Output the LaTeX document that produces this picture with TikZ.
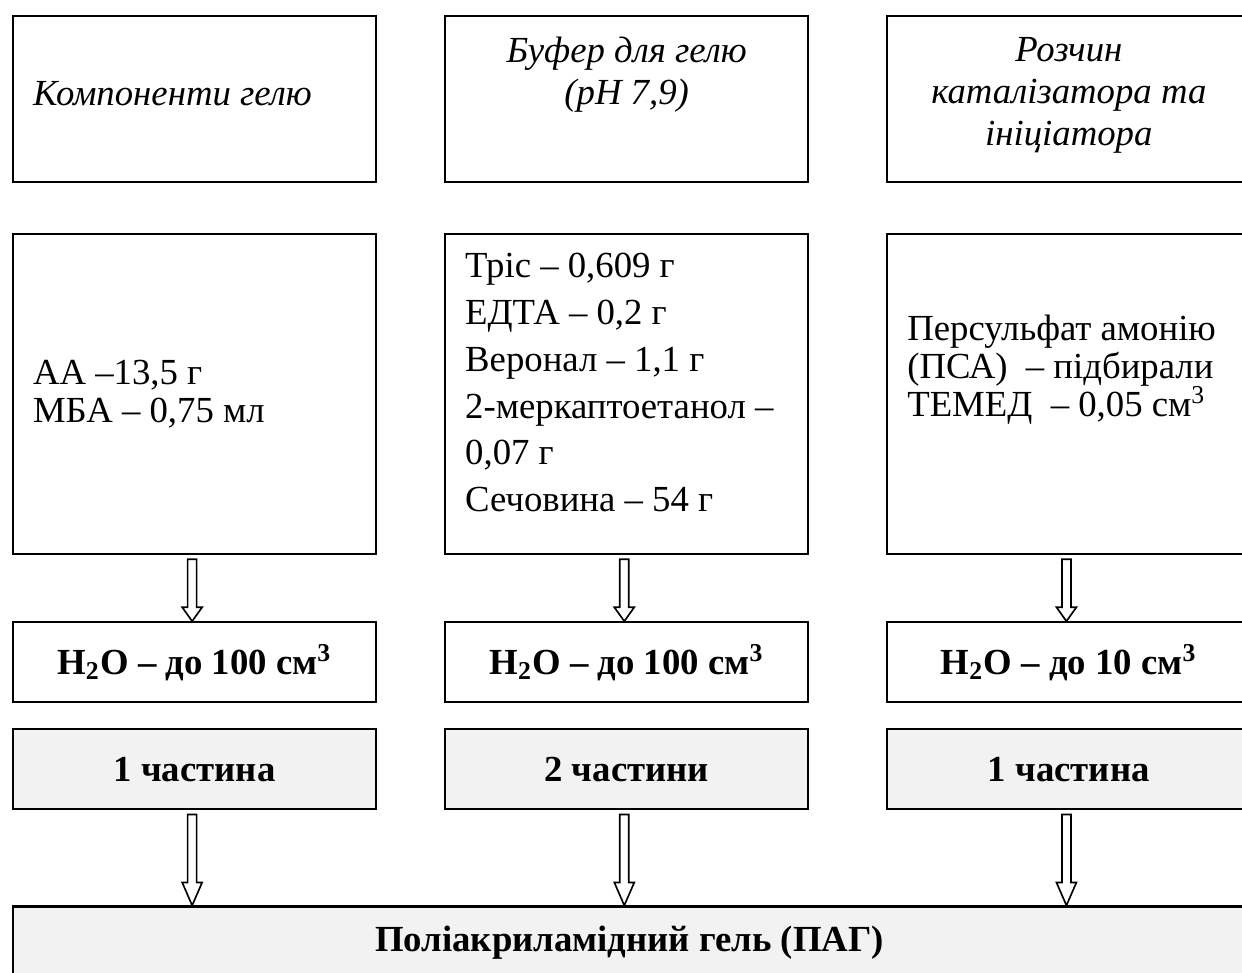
\documentclass[tikz,border=0pt]{standalone}
\usepackage{fontspec}
\setmainfont{Liberation Serif}
\usetikzlibrary{positioning,calc}
\definecolor{PartGray}{RGB}{242,242,242}
\tikzset{
  cell/.style={draw,line width=0.7pt,minimum width=121pt,inner ysep=0pt,
    font=\fontsize{12.25pt}{15.6pt}\selectfont},
  headbox/.style={cell,minimum height=55.33pt,text width=107.67pt,inner xsep=6.67pt,
    font=\fontsize{12.25pt}{14pt}\selectfont\itshape},
  mixbox/.style={cell,minimum height=106.67pt,text width=107.67pt,inner xsep=6.67pt,
    align=flush left},
  waterbox/.style={cell,minimum height=26.67pt,
    font=\fontsize{12.25pt}{15.6pt}\selectfont\bfseries},
  partbox/.style={waterbox,fill=PartGray},
  blockarrow/.style={draw,line width=0.55pt,fill=white,
    to path={let \p1=(\tikztostart), \p2=(\tikztotarget) in
      (\x1-1.5pt,\y1-1.33pt) -- (\x1+1.5pt,\y1-1.33pt) -- (\x1+1.5pt,\y2+#1)
      -- (\x1+3.33pt,\y2+#1) -- (\x1,\y2) -- (\x1-3.33pt,\y2+#1)
      -- (\x1-1.5pt,\y2+#1) -- cycle}}
}
\begin{document}
\begin{tikzpicture}
  \useasboundingbox (0,0) rectangle (414pt,-324pt);
  % headings
  \node[headbox,align=flush left,anchor=north west] (gelhead) at (4pt,-5pt)
    {Компоненти гелю\rule[-3.4pt]{0pt}{0pt}};
  \node[headbox,align=flush center,right=22.33pt of gelhead] (bufhead)
    {Буфер для гелю\\(pH 7,9)\\\rule[-5pt]{0pt}{0pt}};
  \node[headbox,align=flush center,right=25.67pt of bufhead] (cathead)
    {Розчин\\каталізатора та\\ініціатора\rule[-5pt]{0pt}{0pt}};
  % mixtures
  \node[mixbox,below=16.67pt of gelhead,font=\fontsize{12.25pt}{12.7pt}\selectfont] (gelmix)
    {АА –13,5 г\\МБА – 0,75 мл};
  \node[mixbox,below=16.67pt of bufhead] (bufmix)
    {Тріс – 0,609 г\\ЕДТА – 0,2 г\\Веронал – 1,1 г\\2-меркаптоетанол –\\0,07 г\\Сечовина – 54 г\rule[-7.8pt]{0pt}{0pt}};
  \node[mixbox,below=16.67pt of cathead,font=\fontsize{12.25pt}{12.7pt}\selectfont] (catmix)
    {\mbox{Персульфат амонію}\\(ПСА)\ \ – підбирали\\ТЕМЕД\ \ – 0,05 см\textsuperscript{3}\rule[-19pt]{0pt}{0pt}};
  % water
  \node[waterbox,below=22pt of gelmix] (gelwater) {H\textsubscript{2}O – до 100 см\textsuperscript{3}};
  \node[waterbox,below=22pt of bufmix] (bufwater) {H\textsubscript{2}O – до 100 см\textsuperscript{3}};
  \node[waterbox,below=22pt of catmix] (catwater) {H\textsubscript{2}O – до 10 см\textsuperscript{3}};
  % parts
  \node[partbox,below=8.33pt of gelwater] (gelpart) {1 частина};
  \node[partbox,below=8.33pt of bufwater] (bufpart) {2 частини};
  \node[partbox,below=8.33pt of catwater] (catpart) {1 частина};
  \node[partbox,minimum width=411pt,minimum height=24pt,
    below=31.67pt of gelpart.south west,anchor=north west] (pag)
    {Поліакриламідний гель (ПАГ)};
  % arrows
  \draw[blockarrow=4.67pt] ([xshift=-.8pt]gelmix.south) to (gelwater.north);
  \draw[blockarrow=4.67pt] ([xshift=-.8pt]bufmix.south) to (bufwater.north);
  \draw[blockarrow=4.67pt] ([xshift=-.8pt]catmix.south) to (catwater.north);
  \draw[blockarrow=7.67pt] ([xshift=-.8pt]gelpart.south) to (gelpart.south |- pag.north);
  \draw[blockarrow=7.67pt] ([xshift=-.8pt]bufpart.south) to (bufpart.south |- pag.north);
  \draw[blockarrow=7.67pt] ([xshift=-.8pt]catpart.south) to (catpart.south |- pag.north);
\end{tikzpicture}
\end{document}
